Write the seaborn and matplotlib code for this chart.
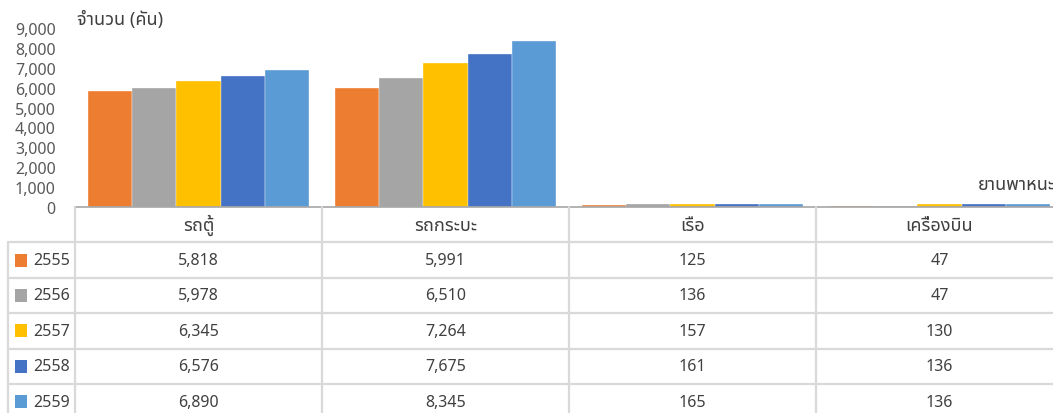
import matplotlib
matplotlib.use("Agg")
import matplotlib.pyplot as plt
import pandas as pd
import seaborn as sns

sns.set_style("white")
plt.rcParams["font.family"] = ["Noto Sans Thai UI", "Noto Sans", "DejaVu Sans"]

# data
categories = ["รถตู้", "รถกระบะ", "เรือ", "เครื่องบิน"]
years = ["2555", "2556", "2557", "2558", "2559"]
values = {
    "2555": [5818, 5991, 125, 47],
    "2556": [5978, 6510, 136, 47],
    "2557": [6345, 7264, 157, 130],
    "2558": [6576, 7675, 161, 136],
    "2559": [6890, 8345, 165, 136],
}
colors = ["#ED7D31", "#A5A5A5", "#FFC000", "#4472C4", "#5B9BD5"]
y_title = "จำนวน (คัน)"
x_title = "ยานพาหนะ"

rows = []
for yr in years:
    for cat, v in zip(categories, values[yr]):
        rows.append({"ประเภท": cat, "ปี": yr, "จำนวน": v})
df = pd.DataFrame(rows)

W, H = 1053, 414
fig = plt.figure(figsize=(W / 100, H / 100), dpi=100)

# chart area: x from 75px, each category 247px wide (last one runs off the edge)
cat_px = 247
left_px, top_px, base_px = 75, 29, 208
ax = fig.add_axes([left_px / W, 1 - base_px / H, 4 * cat_px / W, (base_px - top_px) / H])
sns.barplot(data=df, x="ประเภท", y="จำนวน", hue="ปี", palette=colors, saturation=1,
            width=0.895, edgecolor="white", linewidth=0.25, ax=ax, legend=False)
ax.set_xlim(-0.5, 3.5)
ax.set_ylim(0, 9000)
ax.set_yticks(range(0, 9001, 1000))
ax.set_yticklabels([f"{t:,}" for t in range(0, 9001, 1000)])
ax.tick_params(axis="y", length=0, pad=14, labelsize=11.5, labelcolor="#595959")
ax.set_xticks([])
ax.set_xlabel("")
ax.set_ylabel("")
for s in ["top", "right", "left"]:
    ax.spines[s].set_visible(False)
ax.spines["bottom"].set_color("#a6a6a6")
ax.spines["bottom"].set_linewidth(1.2)
ax.grid(False)

thai_size = 13
fig.text(77 / W, 1 - 20 / H, y_title, fontsize=thai_size, color="#404040", va="center", ha="left")
fig.text(978 / W, 1 - 185 / H, x_title, fontsize=thai_size, color="#404040", va="center", ha="left")

# data table under the chart
row_px = 35.4
n_rows = len(years) + 1
tab = fig.add_axes([left_px / W, 1 - (base_px + n_rows * row_px) / H,
                    4 * cat_px / W, n_rows * row_px / H])
tab.set_xlim(-0.5, 3.5)
tab.set_ylim(n_rows, 0)
tab.axis("off")
line_c = "#d9d9d9"
x_left = -0.5 - (left_px - 8) / cat_px
for r in range(1, n_rows):
    tab.plot([x_left, 3.6], [r, r], color=line_c, lw=1.6, clip_on=False)
for c in range(4):
    tab.plot([c - 0.5, c - 0.5], [0, n_rows], color=line_c, lw=1.6, clip_on=False)
tab.plot([x_left, x_left], [1, n_rows], color=line_c, lw=1.6, clip_on=False)

txt_c = "#404040"
for c, cat in enumerate(categories):
    tab.text(c, 0.5, cat, ha="center", va="center", fontsize=thai_size, color=txt_c)
for r, yr in enumerate(years, start=1):
    for c, v in enumerate(values[yr]):
        tab.text(c, r + 0.5, f"{v:,}", ha="center", va="center", fontsize=11.5, color=txt_c)
    # legend key + year in the left column
    key_x = x_left + 7 / cat_px
    tab.add_patch(plt.Rectangle((key_x, r + 0.5 - 6.5 / row_px), 12.5 / cat_px, 13 / row_px,
                                facecolor=colors[r - 1], edgecolor="none", clip_on=False))
    tab.text(x_left + 25 / cat_px, r + 0.5, yr, ha="left", va="center", fontsize=11.5,
             color=txt_c, clip_on=False)

fig.savefig("out.png", dpi=100)
